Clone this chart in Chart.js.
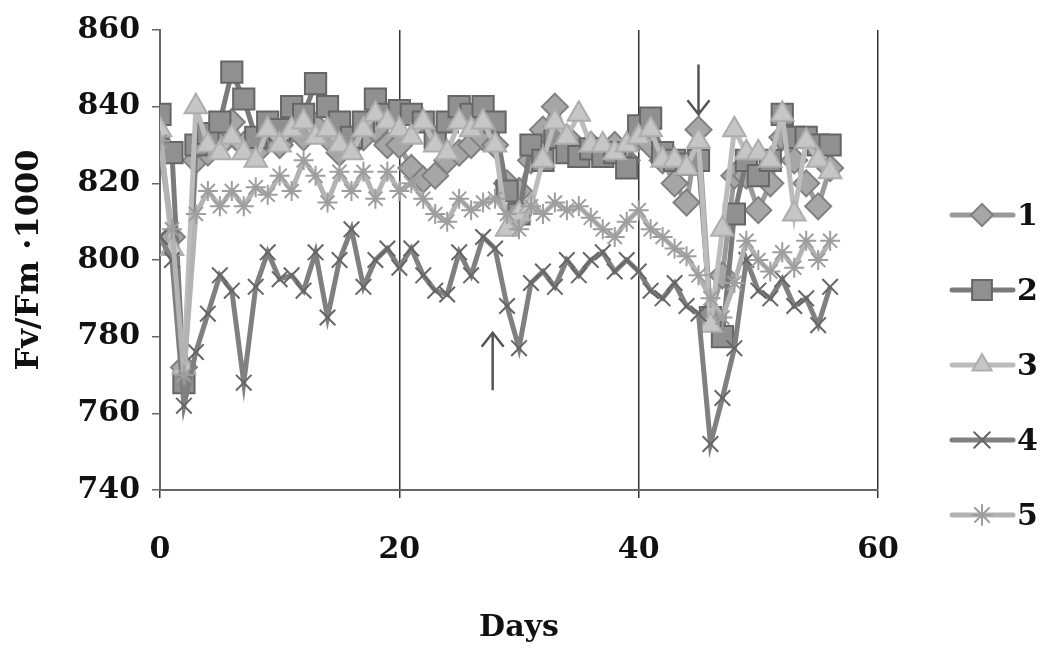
<!DOCTYPE html>
<html>
<head>
<meta charset="utf-8">
<script src="https://cdn.jsdelivr.net/npm/chart.js@4"></script>
<style>
  body { margin: 0; background: #fff; }
  #wrap { width: 1046px; height: 648px; }
</style>
</head>
<body>
<div id="wrap"><canvas id="fvChart"></canvas></div>
<script>
// days of observation
const days = [];
for (let d = 0; d <= 56; d++) days.push(d);

const seriesNames = ["1", "2", "3", "4", "5"];

const s1 = [830, 806, 772, 826, 828, 830, 836, 830, 828, 832, 830, 834, 832, 835, 832, 828, 830, 832, 834, 830,
            830, 824, 821, 822, 826, 828, 830, 832, 830, 820, 818, 826, 834, 840, 832, 828, 830, 828, 830, 826,
            832, 830, 826, 820, 815, 834, 786, 796, 822, 822, 813, 820, 832, 826, 820, 814, 824];
const s2 = [838, 828, 768, 830, 833, 836, 849, 842, 832, 836, 834, 840, 838, 846, 840, 836, 832, 836, 842, 838,
            839, 838, 836, 832, 836, 840, 838, 840, 836, 818, 812, 830, 826, 832, 828, 827, 829, 827, 828, 824,
            835, 837, 828, 826, 825, 826, 785, 780, 812, 826, 822, 826, 838, 832, 832, 830, 830];
const s3 = [834, 803, 772, 840, 830, 828, 832, 828, 826, 834, 830, 834, 836, 832, 834, 830, 828, 834, 838, 836,
            834, 832, 836, 830, 828, 836, 834, 836, 830, 808, 812, 814, 826, 836, 832, 838, 830, 830, 828, 830,
            832, 834, 826, 826, 824, 831, 783, 808, 834, 828, 828, 826, 838, 812, 831, 826, 823];
const s4 = [806, 800, 762, 776, 786, 796, 792, 768, 793, 802, 795, 796, 792, 802, 785, 800, 808, 793, 800, 803,
            798, 803, 796, 792, 791, 802, 796, 806, 803, 788, 777, 794, 797, 793, 800, 796, 800, 802, 797, 800,
            797, 792, 790, 794, 788, 786, 752, 764, 777, 800, 792, 790, 795, 788, 790, 783, 793];
const s5 = [831, 808, 770, 812, 818, 814, 818, 814, 819, 817, 822, 818, 826, 822, 815, 823, 818, 823, 816, 823,
            818, 820, 816, 812, 810, 816, 813, 815, 816, 812, 808, 814, 812, 815, 813, 814, 811, 808, 806, 810,
            813, 808, 806, 803, 801, 796, 790, 785, 794, 805, 800, 797, 802, 798, 805, 800, 805];

const yTicks = [740, 760, 780, 800, 820, 840, 860];
const xTicks = [0, 20, 40, 60];

// arrows: [day, from value, to value]
const arrows = [[45, 851, 838], [27.8, 766, 781]];

const styles = [
  { line: "#9a9a9a", fill: "#a6a6a6", edge: "#808080", point: "rectRot", r: 13, lr: 11 },
  { line: "#7a7a7a", fill: "#909090", edge: "#666666", point: "rect", r: 15, lr: 14 },
  { line: "#bcbcbc", fill: "#c6c6c6", edge: "#adadad", point: "triangle", r: 13, lr: 11 },
  { line: "#808080", fill: "#6c6c6c", edge: "#666666", point: "crossRot", r: 11, lr: 11 },
  { line: "#b3b3b3", fill: "#a4a4a4", edge: "#9e9e9e", point: "star", r: 10, lr: 10 }
];

const values = [s1, s2, s3, s4, s5];
const datasets = values.map((arr, i) => ({
  label: seriesNames[i],
  data: arr.map((v, k) => ({ x: days[k], y: v })),
  borderColor: styles[i].line,
  borderWidth: 5,
  pointStyle: styles[i].point,
  pointRadius: styles[i].r,
  pointBackgroundColor: styles[i].fill,
  pointBorderColor: styles[i].edge,
  pointBorderWidth: 2,
  tension: 0,
  order: 5 - i
}));

const serif = "'DejaVu Serif', 'Liberation Serif', serif";

const legendPlugin = {
  id: "sideLegend",
  afterDraw(chart) {
    const ctx = chart.ctx;
    ctx.save();
    seriesNames.forEach((name, i) => {
      const y = 215 + i * 75;
      const st = styles[i];
      ctx.strokeStyle = st.line;
      ctx.lineWidth = 5;
      ctx.lineCap = "round";
      ctx.beginPath();
      ctx.moveTo(952, y);
      ctx.lineTo(1013, y);
      ctx.stroke();
      ctx.fillStyle = st.fill;
      ctx.strokeStyle = st.edge;
      ctx.lineWidth = 2;
      Chart.helpers.drawPoint(ctx, { pointStyle: st.point, radius: st.lr, rotation: 0, borderWidth: 2 }, 982, y);
      ctx.fillStyle = "#111";
      ctx.font = "bold 30px " + serif;
      ctx.textAlign = "left";
      ctx.textBaseline = "middle";
      ctx.fillText(name, 1017, y + 2);
    });
    ctx.restore();
  }
};

const arrowPlugin = {
  id: "arrows",
  afterDatasetsDraw(chart) {
    const ctx = chart.ctx;
    const xs = chart.scales.x, ys = chart.scales.y;
    ctx.save();
    ctx.strokeStyle = "#555";
    ctx.lineWidth = 2.5;
    arrows.forEach(([d, from, to]) => {
      const x = xs.getPixelForValue(d);
      const y0 = ys.getPixelForValue(from);
      const y1 = ys.getPixelForValue(to);
      const dir = y1 > y0 ? 1 : -1;
      ctx.beginPath();
      ctx.moveTo(x, y0);
      ctx.lineTo(x, y1);
      ctx.moveTo(x - 11, y1 - dir * 14);
      ctx.lineTo(x, y1);
      ctx.lineTo(x + 11, y1 - dir * 14);
      ctx.stroke();
    });
    ctx.restore();
  }
};

new Chart(document.getElementById("fvChart"), {
  type: "line",
  data: { datasets: datasets },
  options: {
    responsive: true,
    maintainAspectRatio: false,
    animation: false,
    layout: { padding: { top: 27, right: 168, bottom: 0, left: 0 } },
    plugins: { legend: { display: false }, tooltip: { enabled: false } },
    scales: {
      x: {
        type: "linear",
        min: 0,
        max: 60,
        afterBuildTicks: s => { s.ticks = xTicks.map(v => ({ value: v })); },
        afterFit: s => { s.height = 158; },
        ticks: { color: "#111", font: { family: serif, size: 30, weight: "bold" }, padding: 34 },
        grid: { color: "#333", lineWidth: 1.5, tickLength: 8 },
        border: { color: "#666", width: 2 },
        title: { display: true, text: "Days", color: "#111", font: { family: serif, size: 30, weight: "bold" }, padding: { top: 0, bottom: 2 } }
      },
      y: {
        min: 740,
        max: 860,
        afterBuildTicks: s => { s.ticks = yTicks.map(v => ({ value: v })); },
        afterFit: s => { s.width = 160; },
        ticks: { color: "#111", font: { family: serif, size: 30, weight: "bold" }, padding: 12 },
        grid: { drawOnChartArea: false, color: "#666", lineWidth: 1.5, tickLength: 8 },
        border: { color: "#666", width: 2 },
        title: { display: true, text: "Fv/Fm \u00b71000", color: "#111", font: { family: serif, size: 32, weight: "bold" }, padding: { top: 10, bottom: 0 } }
      }
    }
  },
  plugins: [arrowPlugin, legendPlugin]
});
</script>
</body>
</html>
